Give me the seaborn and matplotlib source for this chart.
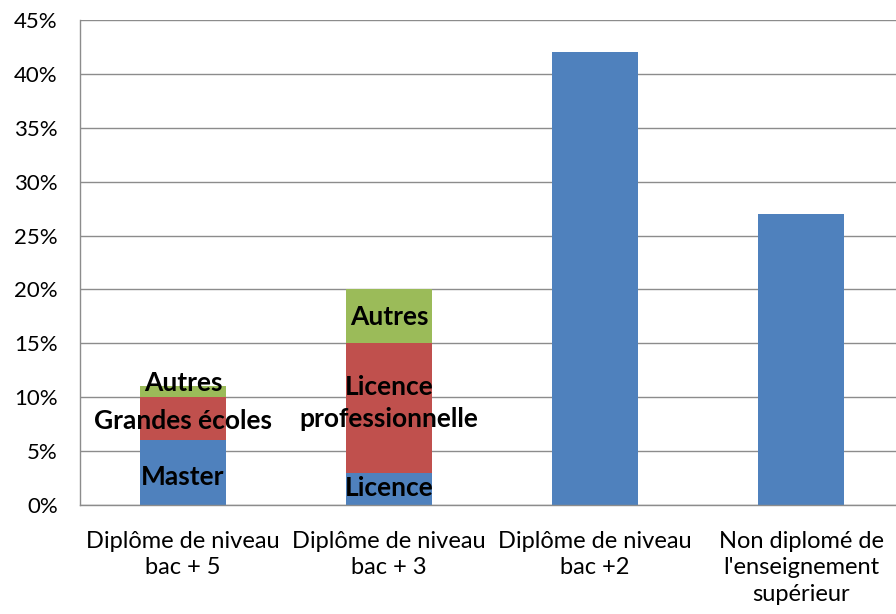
import numpy as np
import matplotlib
matplotlib.use("Agg")
import matplotlib.pyplot as plt
import seaborn as sns
import pandas as pd
from matplotlib.ticker import FuncFormatter

categories = ["Diplôme de niveau\nbac + 5", "Diplôme de niveau\nbac + 3",
              "Diplôme de niveau\nbac +2", "Non diplomé de\nl'enseignement\nsupérieur"]
# segment values (%) from bottom to top
base = [6, 3, 42, 27]          # Master / Licence / total bars
middle = [4, 12, 0, 0]         # Grandes écoles / Licence professionnelle
top = [1, 5, 0, 0]             # Autres

seg_labels = [
    (0, "Master", 2.6), (0, "Grandes écoles", 7.8), (0, "Autres", 11.3),
    (1, "Licence", 1.6), (1, "Licence\nprofessionnelle", 9.5), (1, "Autres", 17.4),
]

sns.set_style("white")
plt.rcParams["font.family"] = ["Lato", "DejaVu Sans"]

df = pd.DataFrame({"cat": categories, "base": base, "middle": middle, "top": top})
df["c2"] = df["base"] + df["middle"]
df["c3"] = df["c2"] + df["top"]

fig = plt.figure(figsize=(8.96, 6.14), dpi=100)
ax = fig.add_axes([80 / 896, 1 - 505 / 614, (904 - 80) / 896, (505 - 20) / 614])

blue, red, green = "#4F81BD", "#C0504D", "#9BBB59"
for col, c in [("c3", green), ("c2", red), ("base", blue)]:
    sns.barplot(data=df, x="cat", y=col, color=c, saturation=1, width=0.42,
                linewidth=0, edgecolor="none", ax=ax, zorder=2)

for i, txt, y in seg_labels:
    ax.text(i, y, txt, ha="center", va="center", fontsize=19, fontweight="bold",
            color="black", zorder=3, linespacing=1.4)

ax.set_ylim(0, 45)
ax.set_xlim(-0.5, 3.5)
ax.set_yticks(np.arange(0, 46, 5))
ax.yaxis.set_major_formatter(FuncFormatter(lambda v, p: f"{int(v)}%"))
ax.yaxis.grid(True, color="#8c8c8c", linewidth=1, zorder=0)
ax.set_axisbelow(True)

ax.set_xticks(range(4))
ax.set_xticklabels(categories)
ax.set_xticks(np.arange(-0.5, 3.6, 1), minor=True)
ax.tick_params(axis="x", which="major", length=0, pad=19, labelsize=17, colors="black")
ax.tick_params(axis="x", which="minor", length=7, color="#8c8c8c", width=1)
ax.tick_params(axis="y", length=7, width=1, labelsize=16, pad=9, labelcolor="black",
               color="#8c8c8c")
for lab in ax.get_xticklabels():
    lab.set_linespacing(1.3)

ax.set_xlabel("")
ax.set_ylabel("")
for s in ["top", "right"]:
    ax.spines[s].set_visible(False)
for s in ["left", "bottom"]:
    ax.spines[s].set_color("#8c8c8c")
    ax.spines[s].set_linewidth(1)

fig.savefig("out.png", dpi=100)
